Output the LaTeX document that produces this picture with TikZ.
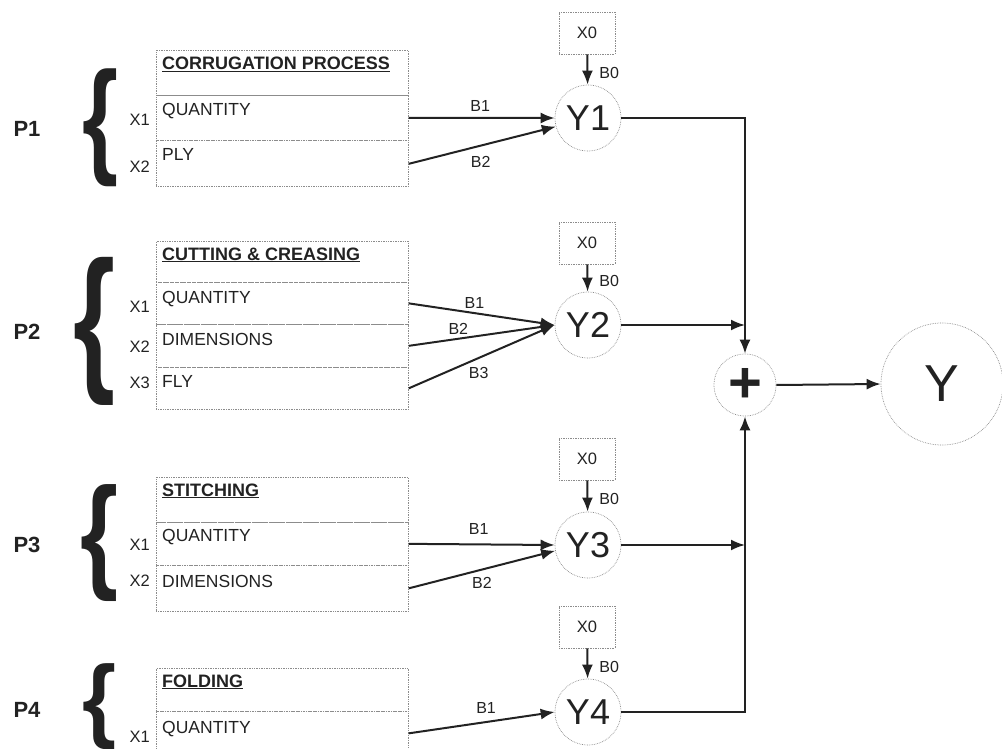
\documentclass[tikz,border=0pt]{standalone}
\usepackage{fontspec}
\setmainfont{Liberation Sans}
\usetikzlibrary{arrows.meta}
\definecolor{ink}{HTML}{222222}
\definecolor{frame}{HTML}{8C8C8C}
\begin{document}
\begin{tikzpicture}[x=1pt,y=-1pt,
  row/.style={draw=frame, densely dotted, line width=0.7pt, minimum width=252pt, inner sep=0pt, anchor=north west},
  rowtxt/.style={anchor=base west, inner sep=0pt, text=ink, font=\fontsize{17.5}{17.5}\selectfont},
  head/.style={rowtxt, font=\fontsize{18}{18}\selectfont\bfseries},
  xlab/.style={anchor=east, inner sep=0pt, text=ink, font=\fontsize{16.5}{16.5}\selectfont},
  blab/.style={inner sep=0pt, text=ink, font=\fontsize{16}{16}\selectfont},
  x0box/.style={draw=frame, densely dotted, line width=0.7pt, minimum width=56pt, minimum height=42pt, inner sep=0pt, text=ink, font=\fontsize{16.5}{16.5}\selectfont},
  ynode/.style={circle, draw=frame, densely dotted, line width=0.7pt, minimum size=66pt, inner sep=0pt, text=ink, font=\fontsize{36}{36}\selectfont},
  plab/.style={inner sep=0pt, text=ink, font=\fontsize{22}{22}\selectfont\bfseries},
  brace/.style={inner sep=0pt, text=ink, font=\bfseries},
  conn/.style={draw=ink, line width=2pt, -{Latex[length=14pt,width=11pt]}},
]
\useasboundingbox (0,0) rectangle (1002,749);

% ---------- P1 ----------
\node[plab] (P1) at (27,129) {P1};
\node[brace] (br1) at (101,128) {\resizebox*{36pt}{118pt}{\{}};
\node[row, minimum height=45pt] (p1h) at (156,50) {};
\node[row, minimum height=45pt] (p1a) at (156,95) {};
\node[row, minimum height=46pt] (p1b) at (156,140) {};
\node[head] (p1ht) at ([xshift=6pt,yshift=-20pt]p1h.north west) {\underline{CORRUGATION PROCESS}};
\node[rowtxt] (p1at) at ([xshift=6pt,yshift=-21pt]p1a.north west) {QUANTITY};
\node[rowtxt] (p1bt) at ([xshift=6pt,yshift=-21pt]p1b.north west) {PLY};
\node[xlab] (p1x1) at (150,120) {X1};
\node[xlab] (p1x2) at (150,167) {X2};

% ---------- P2 ----------
\node[plab] (P2) at (27,332) {P2};
\node[brace] (br2) at (95,331) {\resizebox*{42pt}{148pt}{\{}};
\node[row, minimum height=41pt] (p2h) at (156,241) {};
\node[row, minimum height=42pt] (p2a) at (156,282) {};
\node[row, minimum height=43pt] (p2b) at (156,324) {};
\node[row, minimum height=42pt] (p2c) at (156,367) {};
\node[head] (p2ht) at ([xshift=6pt,yshift=-19pt]p2h.north west) {\underline{CUTTING \& CREASING}};
\node[rowtxt] (p2at) at ([xshift=6pt,yshift=-21pt]p2a.north west) {QUANTITY};
\node[rowtxt] (p2bt) at ([xshift=6pt,yshift=-21pt]p2b.north west) {DIMENSIONS};
\node[rowtxt] (p2ct) at ([xshift=6pt,yshift=-20pt]p2c.north west) {FLY};
\node[xlab] (p2x1) at (150,307) {X1};
\node[xlab] (p2x2) at (150,347) {X2};
\node[xlab] (p2x3) at (150,383) {X3};

% ---------- P3 ----------
\node[plab] (P3) at (27,545) {P3};
\node[brace] (br3) at (100,543) {\resizebox*{38pt}{117pt}{\{}};
\node[row, minimum height=45pt] (p3h) at (156,477) {};
\node[row, minimum height=43pt] (p3a) at (156,522) {};
\node[row, minimum height=46pt] (p3b) at (156,565) {};
\node[head] (p3ht) at ([xshift=6pt,yshift=-19pt]p3h.north west) {\underline{STITCHING}};
\node[rowtxt] (p3at) at ([xshift=6pt,yshift=-19pt]p3a.north west) {QUANTITY};
\node[rowtxt] (p3bt) at ([xshift=6pt,yshift=-22pt]p3b.north west) {DIMENSIONS};
\node[xlab] (p3x1) at (150,545) {X1};
\node[xlab] (p3x2) at (150,581) {X2};

% ---------- P4 ----------
\node[plab] (P4) at (27,710) {P4};
\node[brace] (br4) at (100,707) {\resizebox*{34pt}{86pt}{\{}};
\node[row, minimum height=43pt] (p4h) at (156,668) {};
\node[row, minimum height=46pt] (p4a) at (156,711) {};
\node[head] (p4ht) at ([xshift=6pt,yshift=-19pt]p4h.north west) {\underline{FOLDING}};
\node[rowtxt] (p4at) at ([xshift=6pt,yshift=-22pt]p4a.north west) {QUANTITY};
\node[xlab] (p4x1) at (150,737) {X1};

% ---------- Y nodes ----------
\node[ynode] (y1) at (588,118) {Y1};
\node[ynode] (y2) at (588,325) {Y2};
\node[ynode] (y3) at (588,545) {Y3};
\node[ynode] (y4) at (588,712) {Y4};
\node[x0box] (x01) at (587,33) {X0};
\node[x0box] (x02) at (587,243) {X0};
\node[x0box] (x03) at (587,459) {X0};
\node[x0box] (x04) at (587,627) {X0};

\node[circle, draw=frame, densely dotted, line width=0.7pt, minimum size=62pt, inner sep=0pt, text=ink, font=\fontsize{58}{58}\selectfont\bfseries] (plus) at (745,385) {+};
\node[circle, draw=frame, densely dotted, line width=0.7pt, minimum size=122pt, inner sep=0pt, text=ink, font=\fontsize{52}{52}\selectfont] (Y) at (942,384) {Y};

% ---------- B0 arrows ----------
\draw[conn] (x01) -- node[blab, right=11pt, pos=0.6] (b01) {B0} (y1);
\draw[conn] (x02) -- node[blab, right=11pt, pos=0.6] (b02) {B0} (y2);
\draw[conn] (x03) -- node[blab, right=11pt, pos=0.6] (b03) {B0} (y3);
\draw[conn] (x04) -- node[blab, right=11pt, pos=0.6] (b04) {B0} (y4);

% ---------- inputs ----------
\draw[conn] (p1a.east) -- node[blab, above=5pt, pos=0.49] (l11) {B1} (y1.west);
\draw[conn] ([yshift=-0.5pt]p1b.east) -- node[blab, below=10pt, pos=0.49] (l12) {B2} (y1.195);

\draw[conn] (p2a.east) -- node[blab, above=4pt, pos=0.45] (l21) {B1} (y2.west);
\draw[conn] (p2b.east) -- node[blab, above=3pt, pos=0.34] (l22) {B2} (y2.west);
\draw[conn] (p2c.east) -- node[blab, below=8pt, pos=0.48] (l23) {B3} (y2.west);

\draw[conn] (p3a.east) -- node[blab, above=9pt, pos=0.48] (l31) {B1} (y3.west);
\draw[conn] (p3b.east) -- node[blab, below=7pt, pos=0.5] (l32) {B2} (y3.190);

\draw[conn] ([yshift=1pt]p4a.east) -- node[blab, above=8pt, pos=0.53] (l41) {B1} (y4.west);

% ---------- summation ----------
\coordinate (bus2) at (y2.east -| plus.center);
\coordinate (bus3) at (y3.east -| plus.center);
\draw[conn] (y1.east) -| (plus.north);
\draw[conn] (y2.east) -- (bus2);
\draw[conn] (y3.east) -- (bus3);
\draw[conn] (y4.east) -| (plus.south);
\draw[conn] (plus.east) -- (Y.west);
\end{tikzpicture}
\end{document}
